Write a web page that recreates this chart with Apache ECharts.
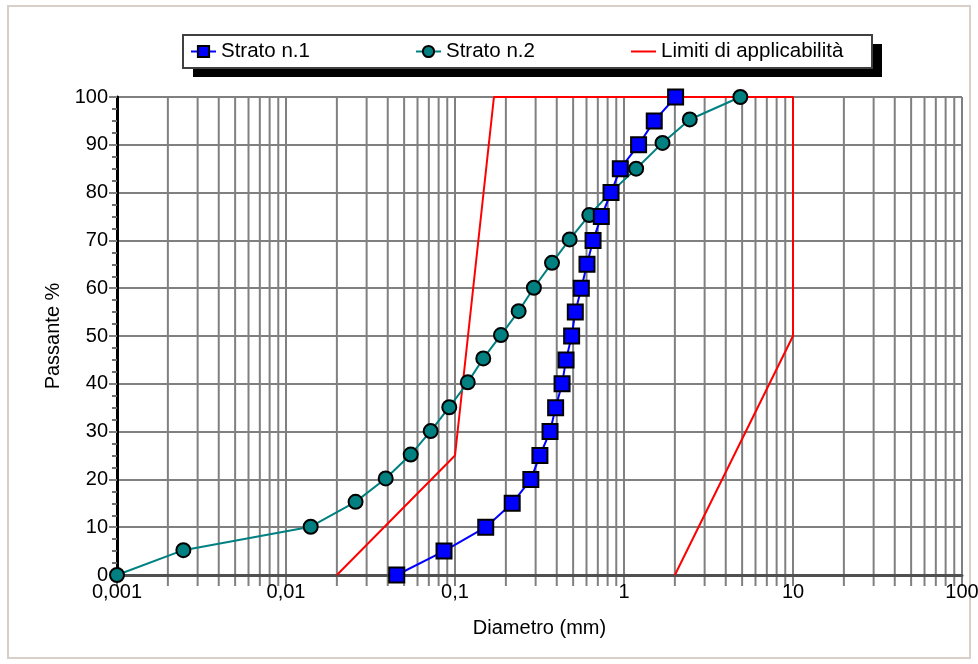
<!DOCTYPE html>
<html>
<head>
<meta charset="utf-8">
<script src="https://cdn.jsdelivr.net/npm/echarts@6/dist/echarts.min.js"></script>
<style>
html,body{margin:0;padding:0;background:#fff;}
#c{width:978px;height:664px;}
</style>
</head>
<body>
<div id="c"></div>
<script>
// ---- data ----
var strato1X = [0.0452, 0.0861, 0.152, 0.218, 0.281, 0.318, 0.365, 0.394, 0.430, 0.454, 0.490, 0.515, 0.559, 0.604, 0.656, 0.734, 0.838, 0.951, 1.22, 1.51, 2.02];
var strato1Y = [0, 5, 10, 15, 20, 25, 30, 35, 40, 45, 50, 55, 60, 65, 70, 75, 80, 85, 90, 95, 100];

var strato2X = [0.001, 0.00247, 0.0140, 0.0258, 0.0389, 0.0547, 0.0718, 0.0925, 0.119, 0.147, 0.187, 0.238, 0.293, 0.375, 0.477, 0.623, 0.838, 1.18, 1.69, 2.45, 4.88];
var strato2Y = [0, 5.2, 10.1, 15.3, 20.2, 25.2, 30.1, 35.1, 40.3, 45.3, 50.2, 55.2, 60.1, 65.3, 70.2, 75.3, 80.1, 85.0, 90.4, 95.3, 100];

var limitX = [0.02, 0.1, 0.17, 10, 10, 2];
var limitY = [0, 25, 100, 100, 50, 0];

var xTickLabels = ['0,001', '0,01', '0,1', '1', '10', '100'];
var decades = [0.001, 0.01, 0.1, 1, 10];
var decadeSteps = [1, 2, 3, 4, 5, 6, 7, 8, 9];

function pairs(xs, ys) {
  var out = [];
  for (var i = 0; i < xs.length; i++) out.push([xs[i], ys[i]]);
  return out;
}

// vertical grid lines at 1..9 x each decade (axis grid, not data)
var gridXs = [];
decades.forEach(function (d) {
  decadeSteps.forEach(function (m) { gridXs.push([+(m * d).toPrecision(3), 0]); });
});
gridXs.push([100, 0]);

var FONT = 'Liberation Sans, Arial, sans-serif';
var FS = 20;
var chart = echarts.init(document.getElementById('c'), null, {renderer: 'canvas'});

function legendCfg(name, left, extra) {
  var l = {data: [name], left: left, top: 41, padding: 0, z: 12, itemWidth: 25, itemHeight: 14,
    textStyle: {fontSize: 20.5, color: '#000', fontFamily: FONT}, selectedMode: false};
  if (extra) for (var k in extra) l[k] = extra[k];
  return l;
}

var option = {
  animation: false,
  backgroundColor: '#ffffff',
  textStyle: {fontFamily: FONT},
  graphic: [
    {type: 'rect', z: -10, shape: {x: 8, y: 6, width: 962, height: 652},
     style: {fill: '#ffffff', stroke: '#d8d0c8', lineWidth: 2}},
    {type: 'rect', z: 10, shape: {x: 193, y: 44, width: 689, height: 33},
     style: {fill: '#000000'}},
    {type: 'rect', z: 11, shape: {x: 183, y: 35, width: 689, height: 33},
     style: {fill: '#ffffff', stroke: '#404040', lineWidth: 2}}
  ],
  legend: [
    legendCfg('Strato n.1', 190),
    legendCfg('Strato n.2', 415),
    legendCfg('Limiti di applicabilità', 630, {itemStyle: {opacity: 0}})
  ],
  grid: {left: 117, right: 16, top: 97, bottom: 89, containLabel: false, outerBoundsMode: 'none'},
  xAxis: {
    type: 'log', logBase: 10, min: 0.001, max: 100, z: 1.5,
    name: 'Diametro (mm)', nameLocation: 'middle', nameGap: 43,
    nameTextStyle: {fontSize: FS, color: '#000', fontFamily: FONT},
    axisLine: {show: true, lineStyle: {color: '#505050', width: 3}},
    axisTick: {show: false},
    minorTick: {show: false},
    splitLine: {show: false},
    axisLabel: {fontSize: FS, color: '#000', fontFamily: FONT, margin: 7,
      formatter: function (v, i) { return xTickLabels[i]; }}
  },
  yAxis: {
    type: 'value', min: 0, max: 100, interval: 10, z: 1.5,
    name: 'Passante %', nameLocation: 'middle', nameGap: 51,
    nameTextStyle: {fontSize: FS, color: '#000', fontFamily: FONT},
    axisLine: {show: true, lineStyle: {color: '#000', width: 3}},
    axisTick: {show: true, length: 8, lineStyle: {color: '#808080', width: 2}},
    minorTick: {show: true, splitNumber: 4, length: 5, lineStyle: {color: '#707070', width: 2}},
    splitLine: {show: true, lineStyle: {color: '#808080', width: 2}},
    axisLabel: {fontSize: FS, color: '#000', fontFamily: FONT, margin: 9}
  },
  series: [
    {
      type: 'custom', name: 'grid', z: 1, silent: true, clip: false,
      data: gridXs,
      renderItem: function (params, api) {
        var top = api.coord([api.value(0), 100]);
        var bot = api.coord([api.value(0), 0]);
        return {
          type: 'line',
          shape: {x1: top[0], y1: top[1], x2: bot[0], y2: bot[1] + 11},
          style: {stroke: '#808080', lineWidth: 2}
        };
      }
    },
    {
      type: 'line', name: 'Limiti di applicabilità', z: 3,
      data: pairs(limitX, limitY),
      showSymbol: false, symbol: 'none',
      lineStyle: {color: '#ff0000', width: 2},
      itemStyle: {color: '#ff0000'}
    },
    {
      type: 'line', name: 'Strato n.2', z: 4,
      data: pairs(strato2X, strato2Y),
      symbol: 'circle', symbolSize: 14,
      lineStyle: {color: '#008080', width: 2},
      itemStyle: {color: '#008080', borderColor: '#000', borderWidth: 2}
    },
    {
      type: 'line', name: 'Strato n.1', z: 5,
      data: pairs(strato1X, strato1Y),
      symbol: 'rect', symbolSize: 15,
      lineStyle: {color: '#0000ff', width: 2},
      itemStyle: {color: '#0000ff', borderColor: '#000', borderWidth: 2}
    }
  ]
};
chart.setOption(option);
</script>
</body>
</html>
